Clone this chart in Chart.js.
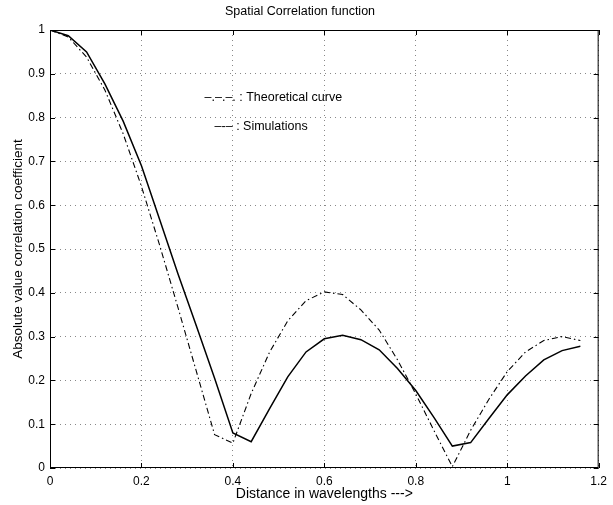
<!DOCTYPE html>
<html>
<head>
<meta charset="utf-8">
<script src="https://cdn.jsdelivr.net/npm/chart.js@4"></script>
<style>
  html, body { margin: 0; padding: 0; background: #fff; }
  #wrap { width: 613px; height: 505px; }
</style>
</head>
<body>
<div id="wrap"><canvas id="myChart"></canvas></div>
<script>
// distance in wavelengths (sample points)
const distance = [0, 0.04, 0.08, 0.12, 0.16, 0.20, 0.24, 0.28, 0.32, 0.36,
                  0.40, 0.44, 0.48, 0.52, 0.56, 0.60, 0.64, 0.68, 0.72, 0.76,
                  0.80, 0.84, 0.88, 0.92, 0.96, 1.00, 1.04, 1.08, 1.12, 1.16];
// theoretical curve (dash-dot)
const theoretical = [1.0, 0.984, 0.938, 0.863, 0.763, 0.643, 0.508, 0.366, 0.221, 0.076,
                     0.057, 0.17, 0.264, 0.336, 0.382, 0.402, 0.396, 0.361, 0.315, 0.247,
                     0.169, 0.085, 0.003, 0.086, 0.157, 0.22, 0.265, 0.291, 0.300, 0.291];
// simulations (solid)
const simulations = [1.0, 0.987, 0.95, 0.877, 0.792, 0.69, 0.567, 0.443, 0.325, 0.205,
                     0.08, 0.06, 0.135, 0.208, 0.265, 0.295, 0.303, 0.293, 0.27, 0.227,
                     0.177, 0.115, 0.05, 0.058, 0.113, 0.167, 0.21, 0.247, 0.268, 0.278];

const xTicks = [0, 0.2, 0.4, 0.6, 0.8, 1, 1.2];
const yTicks = [0, 0.1, 0.2, 0.3, 0.4, 0.5, 0.6, 0.7, 0.8, 0.9, 1];
const legendText = ['\u2013.\u2013.\u2013. : Theoretical curve', '\u2013-\u2013 : Simulations'];

const FONT = 'Liberation Sans, Arial, Helvetica, sans-serif';

// matlab style box with inward ticks, plus in-plot legend text
const boxPlugin = {
  id: 'box',
  afterDatasetsDraw(chart) {
    const c = chart.ctx, a = chart.chartArea;
    const xs = chart.scales.x, ys = chart.scales.y;
    c.save();
    c.strokeStyle = '#000';
    c.lineWidth = 1;
    c.strokeRect(a.left + 0.5, a.top + 0.5, a.right - a.left - 1, a.bottom - a.top - 1);
    c.beginPath();
    xTicks.forEach(v => {
      const px = Math.round(xs.getPixelForValue(v)) + 0.5;
      c.moveTo(px, a.bottom); c.lineTo(px, a.bottom - 5);
      c.moveTo(px, a.top); c.lineTo(px, a.top + 5);
    });
    yTicks.forEach(v => {
      const py = Math.round(ys.getPixelForValue(v)) + 0.5;
      c.moveTo(a.left, py); c.lineTo(a.left + 5, py);
      c.moveTo(a.right, py); c.lineTo(a.right - 5, py);
    });
    c.stroke();
    c.fillStyle = '#000';
    c.font = '12.5px ' + FONT;
    c.textBaseline = 'middle';
    c.fillText(legendText[0], xs.getPixelForValue(0.338), ys.getPixelForValue(0.845));
    c.fillText(legendText[1], xs.getPixelForValue(0.36), ys.getPixelForValue(0.78));
    c.restore();
  }
};

const ctx = document.getElementById('myChart').getContext('2d');
const myChart = new Chart(ctx, {
  type: 'line',
  data: {
    datasets: [{
      label: 'Theoretical curve',
      data: distance.map((d, i) => ({x: d, y: theoretical[i]})),
      borderColor: '#000',
      borderWidth: 1.1,
      borderDash: [6, 3, 1.5, 3],
      pointRadius: 0,
      tension: 0,
      fill: false
    }, {
      label: 'Simulations',
      data: distance.map((d, i) => ({x: d, y: simulations[i]})),
      borderColor: '#000',
      borderWidth: 1.5,
      pointRadius: 0,
      tension: 0,
      fill: false
    }]
  },
  options: {
    responsive: true,
    maintainAspectRatio: false,
    animation: false,
    layout: { padding: { top: 0, right: 13, left: 0, bottom: 0 } },
    plugins: {
      legend: { display: false },
      tooltip: { enabled: false },
      title: {
        display: true,
        text: 'Spatial Correlation function',
        color: '#000',
        font: { family: FONT, size: 12.5, weight: 'normal' },
        padding: { top: 4.5, bottom: 10.5 }
      }
    },
    scales: {
      x: {
        type: 'linear',
        min: 0, max: 1.2,
        afterBuildTicks: s => { s.ticks = xTicks.map(v => ({value: v})); },
        afterFit: s => { s.height = 37; },
        ticks: {
          color: '#000', padding: 6,
          font: { family: FONT, size: 12 },
          callback: v => String(+v.toFixed(1))
        },
        grid: { color: '#888', drawTicks: false, lineWidth: 1 },
        border: { display: false, dash: [1, 4] },
        title: {
          display: true, text: 'Distance in wavelengths --->', color: '#000',
          font: { family: FONT, size: 14 }, padding: { top: 0, bottom: 2.6 }
        }
      },
      y: {
        type: 'linear',
        min: 0, max: 1,
        afterBuildTicks: s => { s.ticks = yTicks.map(v => ({value: v})); },
        afterFit: s => { s.width = 50; },
        ticks: {
          color: '#000', padding: 5,
          font: { family: FONT, size: 12 },
          callback: v => String(+v.toFixed(1))
        },
        grid: { color: '#888', drawTicks: false, lineWidth: 1 },
        border: { display: false, dash: [1, 4] },
        title: {
          display: true, text: 'Absolute value correlation coefficient', color: '#000',
          font: { family: FONT, size: 13.5 }, padding: { top: 9.9, bottom: 0 }
        }
      }
    }
  },
  plugins: [boxPlugin]
});
</script>
</body>
</html>
